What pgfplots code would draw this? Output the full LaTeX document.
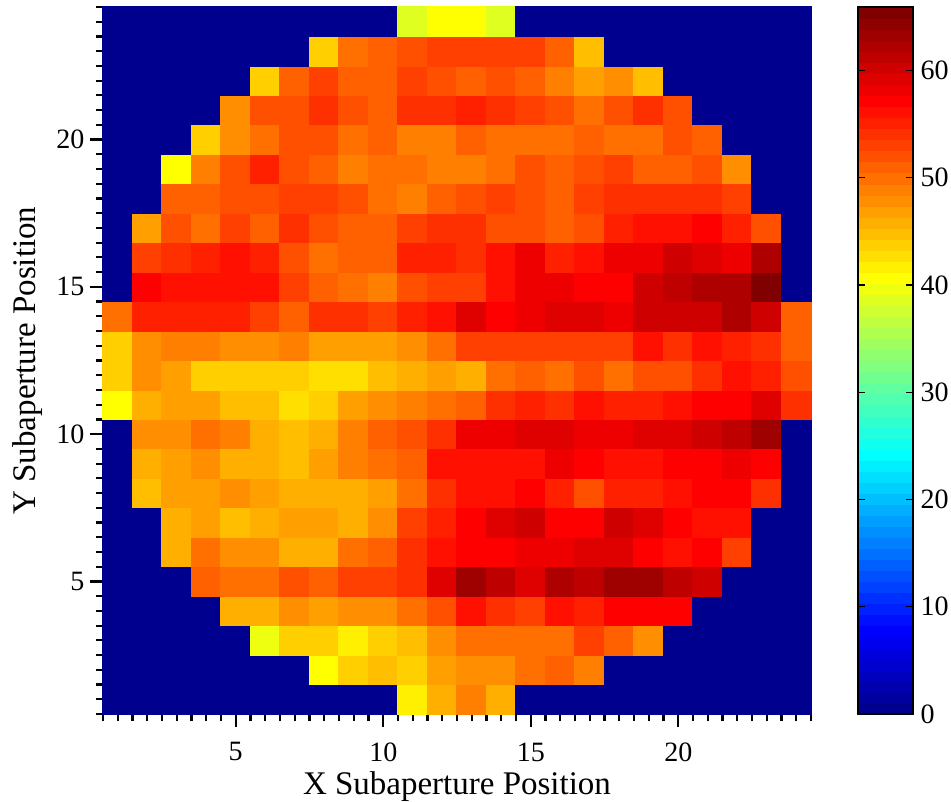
\documentclass[border=0pt]{standalone}
\usepackage{pgfplots}
\pgfplotsset{compat=1.18}
\usepackage{fontspec}
\setmainfont{Liberation Serif}
\begin{document}
\begin{tikzpicture}[x=1pt,y=1pt]
\useasboundingbox (-103,-87) rectangle (848,714);
\begin{axis}[
  at={(0,0)},anchor=south west,
  scale only axis,width=708pt,height=707pt,
  xmin=0.5,xmax=24.5,ymin=0.5,ymax=24.5,
  axis x line*=bottom,axis y line*=left,
  axis line style={line width=2.2pt,-},
  xtick={5,10,15,20},ytick={5,10,15,20},
  minor xtick={0.5,1,...,24.5},minor ytick={0.5,1,...,24.5},
  tick align=outside,
  major tick length=13pt,minor tick length=7pt,
  every tick/.style={black,line width=2.2pt},
  /pgf/number format/assume math mode=true,
  tick label style={font=\fontsize{28}{28}\selectfont},
  xticklabel style={yshift=-12pt},
  yticklabel style={xshift=-2pt},
  label style={font=\fontsize{33}{33}\selectfont},
  xlabel={X Subaperture Position},
  ylabel={Y Subaperture Position},
  xlabel style={at={(axis description cs:0.5,0)},anchor=base,yshift=-80pt},
  ylabel style={at={(axis description cs:0,0.5)},anchor=base,yshift=67pt},
  axis on top,
  colormap={jet64}{rgb255=(0,0,143) rgb255=(0,0,159) rgb255=(0,0,175) rgb255=(0,0,191) rgb255=(0,0,207) rgb255=(0,0,223) rgb255=(0,0,239) rgb255=(0,0,255)
   rgb255=(0,16,255) rgb255=(0,32,255) rgb255=(0,48,255) rgb255=(0,64,255) rgb255=(0,80,255) rgb255=(0,96,255) rgb255=(0,112,255) rgb255=(0,128,255)
   rgb255=(0,143,255) rgb255=(0,159,255) rgb255=(0,175,255) rgb255=(0,191,255) rgb255=(0,207,255) rgb255=(0,223,255) rgb255=(0,239,255) rgb255=(0,255,255)
   rgb255=(16,255,239) rgb255=(32,255,223) rgb255=(48,255,207) rgb255=(64,255,191) rgb255=(80,255,175) rgb255=(96,255,159) rgb255=(112,255,143) rgb255=(128,255,128)
   rgb255=(143,255,112) rgb255=(159,255,96) rgb255=(175,255,80) rgb255=(191,255,64) rgb255=(207,255,48) rgb255=(223,255,32) rgb255=(239,255,16) rgb255=(255,255,0)
   rgb255=(255,239,0) rgb255=(255,223,0) rgb255=(255,207,0) rgb255=(255,191,0) rgb255=(255,175,0) rgb255=(255,159,0) rgb255=(255,143,0) rgb255=(255,128,0)
   rgb255=(255,112,0) rgb255=(255,96,0) rgb255=(255,80,0) rgb255=(255,64,0) rgb255=(255,48,0) rgb255=(255,32,0) rgb255=(255,16,0) rgb255=(255,0,0)
   rgb255=(239,0,0) rgb255=(223,0,0) rgb255=(207,0,0) rgb255=(191,0,0) rgb255=(175,0,0) rgb255=(159,0,0) rgb255=(143,0,0) rgb255=(128,0,0)},
  colormap access=piecewise constant,
  point meta min=0,point meta max=65.92,
  colorbar sampled,
  colorbar style={
    samples=65,
    at={(1.0664,0)},anchor=south west,
    scale only axis,width=55pt,height=707pt,
    ytick={0,10,20,30,40,50,60},
    minor ytick={},
    axis line style={line width=1.3pt},
    major tick length=0pt,
    yticklabel pos=right,
    yticklabel style={xshift=4pt},
    tick label style={font=\fontsize{28}{28}\selectfont},
    /pgf/number format/assume math mode=true,
  },
]
\addplot[only marks,scatter,mark=square*,mark size=14.85pt,
  scatter/use mapped color={draw=mapped color,fill=mapped color},line width=0pt,point meta=explicit]
 table[row sep=\\,header=false,x expr={\coordindex-24*floor((\coordindex+0.5)/24)+1},y expr={floor((\coordindex+0.5)/24)+1},meta index=0]{
0.5\\0.5\\0.5\\0.5\\0.5\\0.5\\0.5\\0.5\\0.5\\0.5\\41.7\\45.8\\48.9\\45.8\\0.5\\0.5\\0.5\\0.5\\0.5\\0.5\\0.5\\0.5\\0.5\\0.5\\
0.5\\0.5\\0.5\\0.5\\0.5\\0.5\\0.5\\40.7\\43.8\\44.8\\43.8\\46.9\\47.9\\47.9\\50\\51\\48.9\\0.5\\0.5\\0.5\\0.5\\0.5\\0.5\\0.5\\
0.5\\0.5\\0.5\\0.5\\0.5\\39.7\\43.8\\43.8\\41.7\\43.8\\44.8\\47.9\\50\\50\\50\\50\\53\\51\\47.9\\0.5\\0.5\\0.5\\0.5\\0.5\\
0.5\\0.5\\0.5\\0.5\\45.8\\45.8\\47.9\\46.9\\47.9\\47.9\\50\\52\\56.1\\54.1\\53\\56.1\\55.1\\57.2\\57.2\\57.2\\0.5\\0.5\\0.5\\0.5\\
0.5\\0.5\\0.5\\51\\50\\50\\52\\51\\53\\53\\54.1\\59.2\\63.3\\61.3\\59.2\\62.3\\61.3\\63.3\\63.3\\61.3\\60.3\\0.5\\0.5\\0.5\\
0.5\\0.5\\45.8\\50\\47.9\\47.9\\45.8\\45.8\\50\\51\\54.1\\56.1\\57.2\\57.2\\58.2\\58.2\\59.2\\59.2\\57.2\\56.1\\57.2\\53\\0.5\\0.5\\
0.5\\0.5\\45.8\\46.9\\44.8\\45.8\\46.9\\46.9\\45.8\\47.9\\53\\55.1\\57.2\\59.2\\60.3\\57.2\\57.2\\60.3\\59.2\\57.2\\56.1\\56.1\\0.5\\0.5\\
0.5\\44.8\\46.9\\46.9\\47.9\\46.9\\45.8\\45.8\\45.8\\46.9\\50\\54.1\\56.1\\56.1\\57.2\\55.1\\52\\55.1\\55.1\\56.1\\57.2\\57.2\\54.1\\0.5\\
0.5\\45.8\\46.9\\47.9\\45.8\\45.8\\44.8\\46.9\\48.9\\50\\51\\56.1\\56.1\\56.1\\56.1\\58.2\\57.2\\56.1\\56.1\\57.2\\57.2\\58.2\\57.2\\0.5\\
0.5\\47.9\\47.9\\50\\48.9\\45.8\\44.8\\45.8\\48.9\\51\\52\\54.1\\58.2\\58.2\\59.2\\59.2\\58.2\\58.2\\59.2\\59.2\\60.3\\61.3\\63.3\\0.5\\
40.7\\45.8\\46.9\\46.9\\44.8\\44.8\\42.7\\43.8\\46.9\\47.9\\48.9\\50\\51\\54.1\\55.1\\54.1\\56.1\\55.1\\55.1\\56.1\\57.2\\57.2\\59.2\\54.1\\
43.8\\47.9\\46.9\\43.8\\43.8\\43.8\\43.8\\42.7\\42.7\\44.8\\45.8\\46.9\\45.8\\50\\51\\50\\52\\50\\52\\52\\54.1\\56.1\\55.1\\52\\
43.8\\47.9\\48.9\\48.9\\47.9\\47.9\\48.9\\46.9\\46.9\\46.9\\47.9\\50\\53\\53\\53\\53\\53\\53\\56.1\\54.1\\56.1\\55.1\\54.1\\51\\
50\\55.1\\55.1\\55.1\\55.1\\53\\51\\54.1\\54.1\\53\\55.1\\56.1\\59.2\\57.2\\58.2\\59.2\\59.2\\58.2\\60.3\\60.3\\60.3\\62.3\\60.3\\51\\
0.5\\57.2\\56.1\\56.1\\56.1\\56.1\\53\\51\\50\\48.9\\52\\53\\53\\56.1\\58.2\\58.2\\57.2\\57.2\\60.3\\61.3\\62.3\\62.3\\65.4\\0.5\\
0.5\\53\\54.1\\55.1\\56.1\\55.1\\52\\50\\51\\51\\55.1\\55.1\\54.1\\56.1\\58.2\\55.1\\56.1\\58.2\\58.2\\60.3\\59.2\\58.2\\62.3\\0.5\\
0.5\\46.9\\52\\50\\53\\51\\54.1\\52\\51\\51\\53\\54.1\\54.1\\52\\52\\51\\52\\55.1\\56.1\\56.1\\57.2\\55.1\\52\\0.5\\
0.5\\0.5\\51\\51\\52\\52\\53\\53\\52\\50\\48.9\\51\\52\\53\\52\\51\\53\\54.1\\54.1\\54.1\\54.1\\53\\0.5\\0.5\\
0.5\\0.5\\40.7\\48.9\\52\\55.1\\52\\51\\48.9\\50\\50\\48.9\\48.9\\50\\52\\51\\52\\53\\51\\51\\52\\47.9\\0.5\\0.5\\
0.5\\0.5\\0.5\\43.8\\47.9\\50\\52\\52\\50\\51\\48.9\\48.9\\51\\50\\50\\50\\51\\50\\50\\52\\51\\0.5\\0.5\\0.5\\
0.5\\0.5\\0.5\\0.5\\47.9\\52\\52\\54.1\\52\\51\\54.1\\54.1\\55.1\\54.1\\53\\52\\50\\52\\54.1\\52\\0.5\\0.5\\0.5\\0.5\\
0.5\\0.5\\0.5\\0.5\\0.5\\43.8\\51\\53\\51\\51\\53\\52\\51\\52\\51\\48.9\\46.9\\47.9\\44.8\\0.5\\0.5\\0.5\\0.5\\0.5\\
0.5\\0.5\\0.5\\0.5\\0.5\\0.5\\0.5\\43.8\\50\\51\\52\\53\\53\\53\\53\\51\\44.8\\0.5\\0.5\\0.5\\0.5\\0.5\\0.5\\0.5\\
0.5\\0.5\\0.5\\0.5\\0.5\\0.5\\0.5\\0.5\\0.5\\0.5\\38.6\\40.7\\40.7\\38.6\\0.5\\0.5\\0.5\\0.5\\0.5\\0.5\\0.5\\0.5\\0.5\\0.5\\
};
\end{axis}
\begin{axis}[
  at={(755pt,0pt)},anchor=south west,
  scale only axis,width=55pt,height=707pt,
  xmin=0,xmax=1,ymin=0,ymax=65.92,
  xtick=\empty,ytick=\empty,
  axis line style={line width=1.3pt},
]
\addplot[black,line width=1.2pt] coordinates {(0,10)(0.127,10)};
\addplot[black,line width=1.2pt] coordinates {(0.873,10)(1,10)};
\addplot[black,line width=1.2pt] coordinates {(0,20)(0.127,20)};
\addplot[black,line width=1.2pt] coordinates {(0.873,20)(1,20)};
\addplot[black,line width=1.2pt] coordinates {(0,30)(0.127,30)};
\addplot[black,line width=1.2pt] coordinates {(0.873,30)(1,30)};
\addplot[black,line width=1.2pt] coordinates {(0,40)(0.127,40)};
\addplot[black,line width=1.2pt] coordinates {(0.873,40)(1,40)};
\addplot[black,line width=1.2pt] coordinates {(0,50)(0.127,50)};
\addplot[black,line width=1.2pt] coordinates {(0.873,50)(1,50)};
\addplot[black,line width=1.2pt] coordinates {(0,60)(0.127,60)};
\addplot[black,line width=1.2pt] coordinates {(0.873,60)(1,60)};
\end{axis}
\end{tikzpicture}
\end{document}
